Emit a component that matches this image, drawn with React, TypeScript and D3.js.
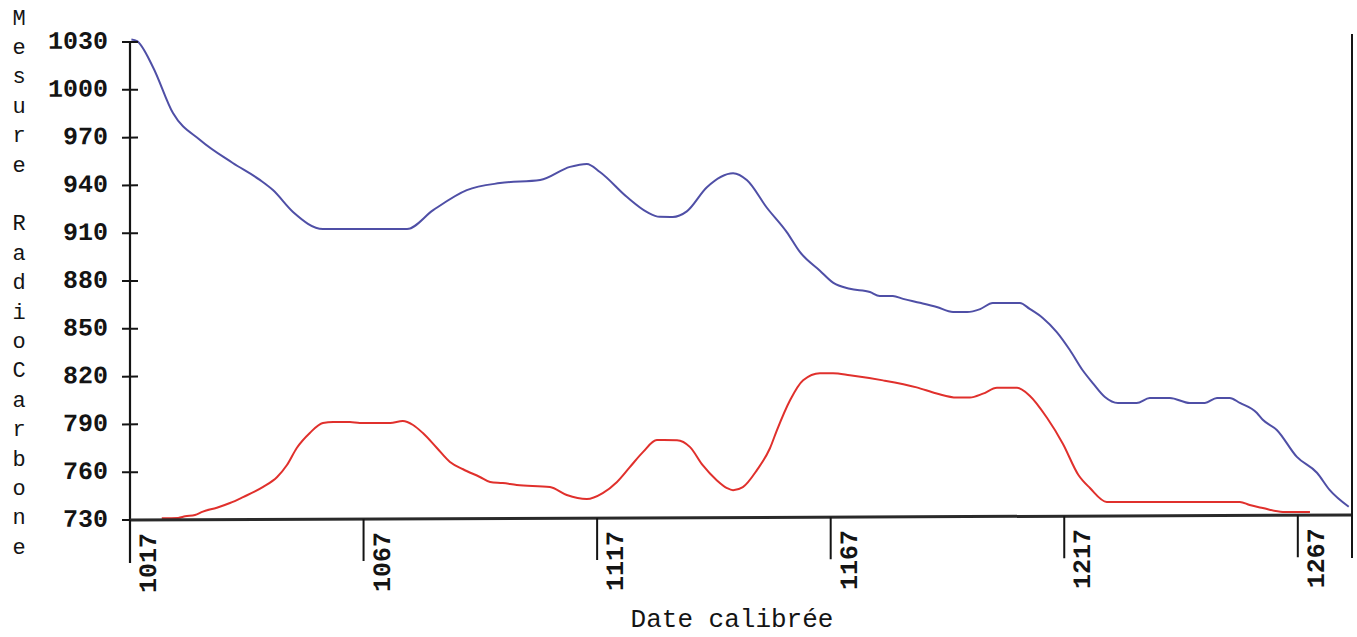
import React from "react";
import * as d3 from "d3";

// Upper curve (blue)
const blueYears = [1017.3, 1018.5, 1021.9, 1026.2, 1032.0, 1039.0, 1044.8, 1047.6, 1051.9, 1058.3, 1076.3, 1081.9, 1089.1, 1096.2, 1104.8, 1111.2, 1114.8, 1117.6, 1123.4, 1127.7, 1130.4, 1133.2, 1136.2, 1140.5, 1146.1, 1149.1, 1153.3, 1157.6, 1160.4, 1164.7, 1167.5, 1171.1, 1175.4, 1177.5, 1180.3, 1182.5, 1186.1, 1189.7, 1193.2, 1196.2, 1199.0, 1201.7, 1207.5, 1209.6, 1212.4, 1215.4, 1218.2, 1220.9, 1223.1, 1225.7, 1228.5, 1232.5, 1235.3, 1239.6, 1243.9, 1247.1, 1249.7, 1252.4, 1254.6, 1258.2, 1259.5, 1262.5, 1266.8, 1271.1, 1273.8, 1277.9];
const blueValues = [1031.5, 1030.5, 1014.3, 985.3, 968.3, 953.8, 943.1, 936.7, 922.9, 912.1, 911.9, 923.7, 936.2, 940.5, 942.3, 950.5, 952.3, 947.2, 931.4, 921.9, 918.9, 918.8, 922.3, 937.4, 946.1, 941.6, 924.5, 909.0, 896.5, 884.7, 877.2, 873.3, 871.2, 868.7, 868.7, 866.8, 864.3, 861.6, 858.4, 858.4, 860.2, 864.0, 863.9, 860.2, 854.5, 845.6, 834.3, 821.7, 813.5, 804.7, 800.9, 800.8, 803.9, 803.9, 800.7, 800.7, 803.8, 803.8, 800.6, 794.4, 790.0, 783.6, 766.6, 756.6, 745.8, 735.2];

// Lower curve (red)
const redYears = [1023.8, 1027.3, 1028.8, 1030.9, 1032.6, 1035.6, 1038.4, 1041.2, 1045.5, 1048.5, 1050.6, 1052.7, 1055.5, 1058.3, 1060.5, 1064.1, 1066.2, 1072.7, 1075.4, 1077.6, 1079.7, 1082.7, 1085.5, 1088.3, 1091.9, 1094.1, 1096.8, 1099.8, 1106.9, 1110.5, 1114.8, 1118.2, 1121.2, 1124.0, 1126.8, 1129.8, 1134.1, 1136.9, 1139.6, 1142.6, 1144.8, 1146.1, 1148.2, 1151.2, 1154.0, 1155.5, 1158.3, 1161.1, 1164.7, 1167.5, 1171.1, 1178.2, 1185.4, 1189.7, 1194.0, 1196.8, 1199.6, 1202.6, 1206.9, 1209.6, 1213.3, 1216.7, 1220.0, 1222.5, 1226.1, 1254.6, 1256.7, 1259.5, 1263.8, 1269.6];
const redValues = [731.0, 731.2, 732.2, 733.0, 735.1, 737.5, 740.4, 744.1, 750.4, 756.6, 764.1, 774.8, 784.2, 790.4, 791.0, 790.9, 790.3, 790.2, 791.4, 788.9, 783.8, 774.4, 765.6, 761.0, 756.1, 752.9, 752.2, 751.0, 749.6, 744.6, 742.0, 745.7, 752.5, 761.9, 771.3, 778.8, 778.7, 774.3, 762.9, 753.5, 748.5, 747.2, 749.1, 759.7, 773.4, 784.8, 803.5, 816.0, 820.4, 820.3, 819.0, 815.7, 811.2, 807.3, 804.7, 804.7, 807.1, 810.8, 810.7, 805.7, 791.8, 775.5, 756.0, 747.6, 738.8, 738.5, 736.5, 734.6, 732.1, 732.0];

const yTicks = [730, 760, 790, 820, 850, 880, 910, 940, 970, 1000, 1030];
const xTicks = [1017, 1067, 1117, 1167, 1217, 1267];
const yTitle = "Mesure RadioCarbone";
const xTitle = "Date calibrée";

const W = 1357;
const H = 637;
const x0 = 130;
const x1 = 1352;
const yBase = 520;
const yTop = 42;

export default function App() {
  const x = d3.scaleLinear().domain([1017, 1278.6]).range([x0, x1]);
  const y = d3.scaleLinear().domain([730, 1030]).range([yBase, yTop]);

  const line = d3
    .line<[number, number]>()
    .x((d) => x(d[0]))
    .y((d) => y(d[1]))
    .curve(d3.curveMonotoneX);

  const blue: [number, number][] = blueYears.map((t, i) => [t, blueValues[i]]);
  const red: [number, number][] = redYears.map((t, i) => [t, redValues[i]]);

  const font = "'Liberation Mono', 'DejaVu Sans Mono', monospace";
  const ink = "#141414";

  return (
    <div style={{ position: "absolute", left: 0, top: 0 }}>
      <svg width={W} height={H} style={{ display: "block", background: "#fff" }}>
        {/* y title, stacked letters */}
        {yTitle.split("").map((c, i) => (
          <text
            key={"yt" + i}
            x={19}
            y={19 + 29.4 * i}
            textAnchor="middle"
            dominantBaseline="central"
            fontFamily={font}
            fontSize={22}
            fill={ink}
          >
            {c}
          </text>
        ))}
        <text
          x={732}
          y={627}
          textAnchor="middle"
          fontFamily={font}
          fontSize={26}
          fill={ink}
        >
          {xTitle}
        </text>

        <g transform={`translate(${x0},${yBase}) skewY(-0.234) translate(${-x0},${-yBase})`}>
          {/* curves */}
          <path d={line(blue) || ""} fill="none" stroke="#4f4fa6" strokeWidth={2} />
          <path d={line(red) || ""} fill="none" stroke="#e0302c" strokeWidth={2} />

          {/* y axis */}
          <line x1={x0} x2={x0} y1={yTop} y2={563} stroke={ink} strokeWidth={2.2} />
          {yTicks.map((t) => (
            <g key={"y" + t}>
              <line x1={x0 - 8} x2={x0 + 8} y1={y(t)} y2={y(t)} stroke={ink} strokeWidth={2} />
              <text
                x={108}
                y={y(t)}
                textAnchor="end"
                dominantBaseline="central"
                fontFamily={font}
                fontWeight="bold"
                fontSize={25}
                fill={ink}
              >
                {t}
              </text>
            </g>
          ))}

          {/* x axis */}
          <line x1={x0} x2={x1} y1={yBase} y2={yBase} stroke="#2a2a2a" strokeWidth={3} />
          <line x1={x1} x2={x1} y1={39} y2={563} stroke={ink} strokeWidth={2} />
          {xTicks.map((t) => (
            <g key={"x" + t}>
              <line x1={x(t)} x2={x(t)} y1={yBase} y2={562} stroke={ink} strokeWidth={2} />
              <text
                transform={`translate(${x(t) + 26},${533}) rotate(-90)`}
                textAnchor="end"
                fontFamily={font}
                fontWeight="bold"
                fontSize={25}
                fill={ink}
              >
                {t}
              </text>
            </g>
          ))}
        </g>
      </svg>
    </div>
  );
}
